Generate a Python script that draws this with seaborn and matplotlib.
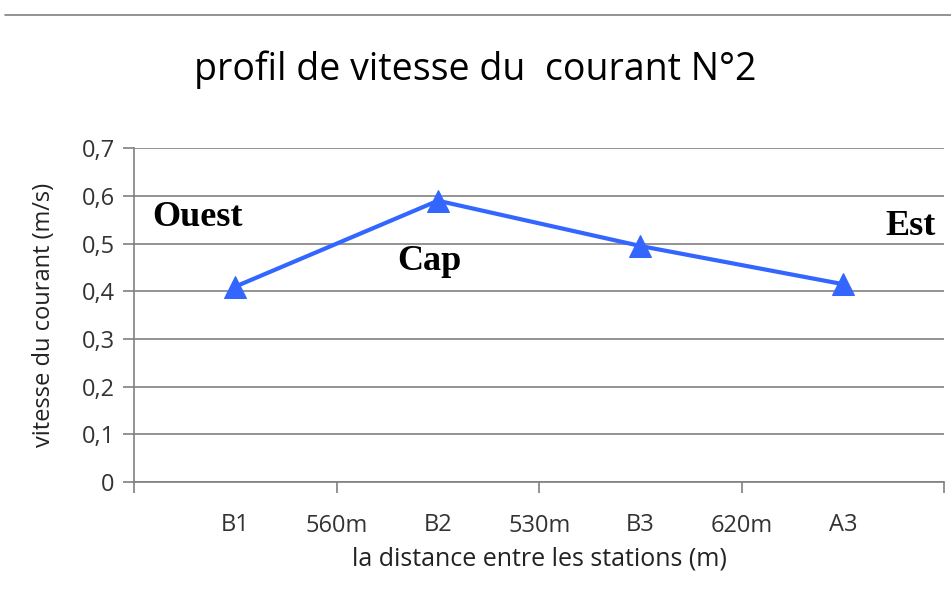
import pandas as pd
import seaborn as sns
import matplotlib.pyplot as plt
from matplotlib.ticker import FixedLocator, FuncFormatter

stations = ["B1", "B2", "B3", "A3"]
vitesse = [0.41, 0.59, 0.495, 0.415]
distances = ["560m", "530m", "620m"]
annotations = ["Ouest", "Cap", "Est"]

df = pd.DataFrame({"pos": [0.5, 1.5, 2.5, 3.5], "vitesse": vitesse})

sns.set_style("white")
plt.rcParams["font.family"] = ["Open Sans", "DejaVu Sans"]

fig = plt.figure(figsize=(9.51, 5.93), dpi=100)
ax = fig.add_axes([0.141, 0.187, 0.852, 0.563])

sns.lineplot(data=df, x="pos", y="vitesse", ax=ax, color="#3366FF", linewidth=3,
             marker="^", markersize=16, markeredgecolor="#3366FF")

ax.set_xlim(0, 4)
ax.set_ylim(0, 0.7)
ax.yaxis.set_major_locator(FixedLocator([i / 10 for i in range(8)]))
ax.yaxis.set_major_formatter(FuncFormatter(lambda v, p: "0" if v == 0 else f"{v:.1f}".replace(".", ",")))
ax.grid(axis="y", color="#808080", linewidth=1.2)
ax.set_axisbelow(True)

# ticks between stations, labels at stations and distances
ax.set_xticks([0, 1, 2, 3, 4])
ax.set_xticklabels([""] + distances + [""], fontsize=17, color="#333333")
ax.set_xticks([0.5, 1.5, 2.5, 3.5], minor=True)
ax.set_xticklabels(stations, minor=True, fontsize=17, color="#333333")
ax.tick_params(axis="x", which="major", length=8, width=1.2, color="#808080", pad=15, direction="out")
ax.tick_params(axis="x", which="minor", length=0, pad=22)
ax.tick_params(axis="y", length=8, width=1.2, color="#808080", labelsize=17, labelcolor="#333333", pad=6)
ax.yaxis.set_ticks_position("left")
ax.xaxis.set_ticks_position("bottom")

for s in ["top", "right"]:
    ax.spines[s].set_visible(False)
for s in ["left", "bottom"]:
    ax.spines[s].set_color("#808080")
    ax.spines[s].set_linewidth(1.2)

ax.set_xlabel("la distance entre les stations (m)", fontsize=18, color="#222222", labelpad=6)
ax.set_ylabel("vitesse du courant (m/s)", fontsize=17, color="#222222", labelpad=18)

txt_kw = dict(fontsize=26, fontweight="bold", family=["Liberation Serif", "DejaVu Serif"],
              color="black", va="center")
ax.text(0.09, 0.555, annotations[0], **txt_kw)
ax.text(1.3, 0.463, annotations[1], **txt_kw)
ax.text(3.71, 0.535, annotations[2], **txt_kw)

fig.text(0.5, 0.883, "profil de vitesse du  courant N°2", ha="center", va="center",
         fontsize=27, color="black")
fig.add_artist(plt.Line2D([0.005, 1.0], [1 - 15 / 593, 1 - 15 / 593], color="#808080", linewidth=1.2))

fig.savefig("out.png", dpi=100)
